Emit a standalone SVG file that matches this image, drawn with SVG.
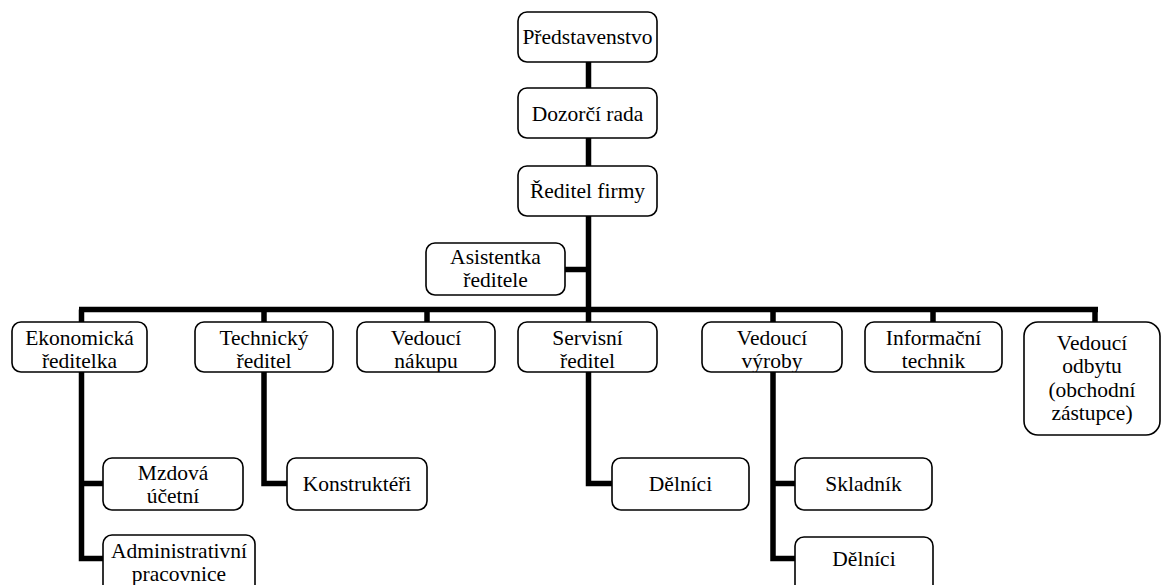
<svg xmlns="http://www.w3.org/2000/svg" width="1162" height="585" viewBox="0 0 1162 585">
<style>
.box{fill:#fff;stroke:#000;stroke-width:1.6}
.c{fill:none;stroke:#000;stroke-width:5.5;stroke-linejoin:miter;stroke-linecap:butt}
</style>
<defs>
<clipPath id="cp-nak"><rect x="357" y="322" width="138" height="50"/></clipPath>
<clipPath id="cp-vyr"><rect x="702" y="322" width="140" height="50"/></clipPath>
</defs>
<rect width="1162" height="585" fill="#fff"/>
<g id="connectors">
<path class="c" d="M588.5 62V322"/>
<path class="c" d="M565 269.5H588.5"/>
<path class="c" d="M79 309.5H1098"/>
<path class="c" d="M81.5 309.5V558.5H103M81.5 483.5H103"/>
<path class="c" d="M264 309.5V483.5H287"/>
<path class="c" d="M427 309.5V322"/>
<path class="c" d="M588.5 372V483.5H612"/>
<path class="c" d="M773 309.5V558.5H795M773 483.5H795"/>
<path class="c" d="M933 309.5V322"/>
<path class="c" d="M1095 309.5V322"/>
</g>
<g font-family="Liberation Serif, serif" font-size="21.5" text-anchor="middle" fill="#000">
<g id="n-predstavenstvo"><rect class="box" x="518" y="12" width="139" height="50" rx="9"/><text x="587.5" y="44">Představenstvo</text></g>
<g id="n-dozorci"><rect class="box" x="518" y="88" width="139" height="50" rx="9"/><text x="587.5" y="121">Dozorčí rada</text></g>
<g id="n-reditel"><rect class="box" x="518" y="166" width="139" height="50" rx="9"/><text x="587.5" y="198">Ředitel firmy</text></g>
<g id="n-asistentka"><rect class="box" x="426" y="243" width="139" height="52" rx="9"/><text x="495.5" y="264">Asistentka</text><text x="495.5" y="287">ředitele</text></g>
<g id="n-ekonomicka"><rect class="box" x="12" y="322" width="135" height="50" rx="9"/><text x="79.5" y="345">Ekonomická</text><text x="79.5" y="368">ředitelka</text></g>
<g id="n-technicky"><rect class="box" x="195" y="322" width="138" height="50" rx="9"/><text x="264" y="345">Technický</text><text x="264" y="368">ředitel</text></g>
<g id="n-nakup"><rect class="box" x="357" y="322" width="138" height="50" rx="9"/><g clip-path="url(#cp-nak)"><text x="426" y="345">Vedoucí</text><text x="426" y="368">nákupu</text></g></g>
<g id="n-servisni"><rect class="box" x="518" y="322" width="139" height="50" rx="9"/><text x="587.5" y="345">Servisní</text><text x="587.5" y="368">ředitel</text></g>
<g id="n-vyroba"><rect class="box" x="702" y="322" width="140" height="50" rx="9"/><g clip-path="url(#cp-vyr)"><text x="772" y="345">Vedoucí</text><text x="772" y="368">výroby</text></g></g>
<g id="n-informacni"><rect class="box" x="865" y="322" width="137" height="50" rx="9"/><text x="933.5" y="345">Informační</text><text x="933.5" y="368">technik</text></g>
<g id="n-odbyt"><rect class="box" x="1024" y="322" width="136" height="113" rx="14"/><text x="1092" y="350">Vedoucí</text><text x="1092" y="373">odbytu</text><text x="1092" y="397">(obchodní</text><text x="1092" y="420">zástupce)</text></g>
<g id="n-mzdova"><rect class="box" x="103" y="458" width="140" height="52" rx="9"/><text x="173" y="480">Mzdová</text><text x="173" y="503">účetní</text></g>
<g id="n-administrativni"><rect class="box" x="103" y="535" width="152" height="60" rx="9"/><text x="179" y="558">Administrativní</text><text x="179" y="581">pracovnice</text></g>
<g id="n-konstrukteri"><rect class="box" x="287" y="458" width="140" height="52" rx="9"/><text x="357" y="491">Konstruktéři</text></g>
<g id="n-delnici1"><rect class="box" x="612" y="458" width="137" height="52" rx="9"/><text x="680.5" y="491">Dělníci</text></g>
<g id="n-skladnik"><rect class="box" x="795" y="458" width="137" height="52" rx="9"/><text x="863.5" y="491">Skladník</text></g>
<g id="n-delnici2"><rect class="box" x="795" y="537" width="138" height="58" rx="9"/><text x="864" y="566">Dělníci</text></g>
</g>
</svg>
